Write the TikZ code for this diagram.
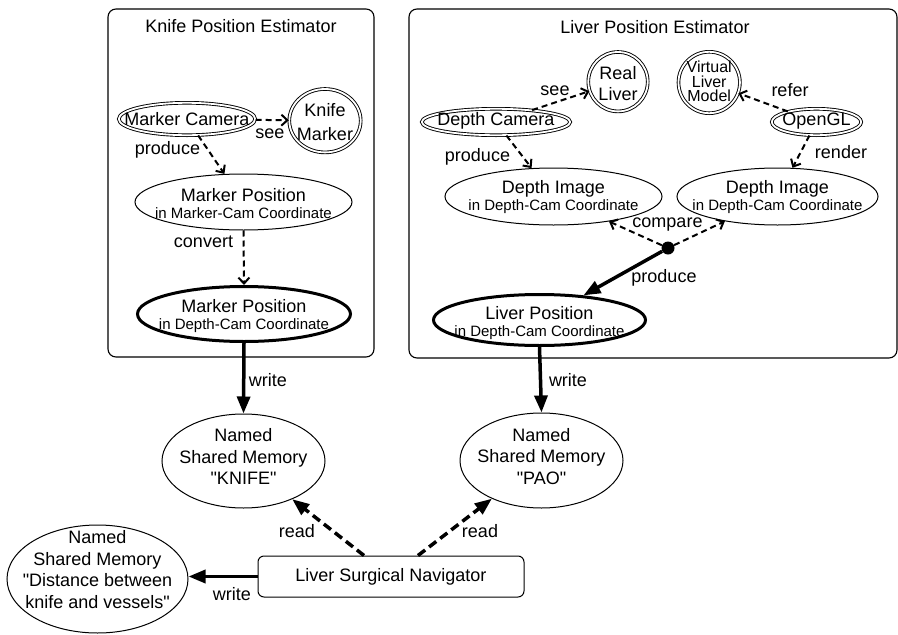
\documentclass[tikz,border=0pt]{standalone}
\usepackage{fontspec}
\setmainfont{Liberation Sans}[Ligatures=TeXOff]
\usetikzlibrary{arrows.meta,shapes.geometric}
\newcommand{\bigf}{\fontsize{18}{21.5}\selectfont}
\newcommand{\smallf}{\fontsize{15}{17}\selectfont}
\begin{document}
\begin{tikzpicture}[x=1pt,y=-1pt,
  frame/.style={draw, rounded corners=8pt, line width=1.1pt, inner sep=0pt, outer sep=0pt},
  ell/.style={ellipse, draw, line width=1pt, inner sep=0pt},
  dbl/.style={ellipse, draw, double, double distance=1.8pt, line width=0.9pt, inner sep=0pt},
  thk/.style={ellipse, draw, line width=3pt, inner sep=0pt},
  txt/.style={align=center, inner sep=0pt, font=\bigf},
  txtd/.style={align=center, inner sep=0pt, font=\fontsize{18}{17}\selectfont},
  lbl/.style={inner sep=0pt, font=\bigf, text height=13pt, text depth=4pt},
  da/.style={line width=2pt, dash pattern=on 6pt off 4pt, -{Straight Barb[length=6pt,width=11pt]}},
  ta/.style={line width=3.5pt, -{Triangle[length=17pt,width=13pt]}},
  tda/.style={line width=3.5pt, dash pattern=on 9pt off 5pt, -{Triangle[length=17pt,width=13pt]}}
]
\useasboundingbox (0,0) rectangle (898,635);

% frames
\node[frame, minimum width=266pt, minimum height=348pt] (kbox) at (241,183) {};
\node[frame, minimum width=488pt, minimum height=349pt] (lbox) at (653,183.5) {};
\node[txt] (ktitle) at (241,26.5) {Knife Position Estimator};
\node[txt] (ltitle) at (655,27) {Liver Position Estimator};

% knife estimator
\node[dbl, minimum width=136.4pt, minimum height=32.4pt] (mcam) at (187,119) {};
\node[txt] (mcamt) at (187,119) {Marker Camera};
\node[dbl, minimum width=71.4pt, minimum height=63.4pt] (kmark) at (325,120.7) {};
\node[txt, font=\fontsize{18}{24}\selectfont] (kmarkt) at (325,122) {Knife\\Marker};
\node[ell, minimum width=217pt, minimum height=56pt] (mpos1) at (243.5,202) {};
\node[txtd] (mpos1t) at (243.5,203.5) {Marker Position\\{\smallf in Marker-Cam Coordinate}};
\node[thk, minimum width=213pt, minimum height=55pt] (mpos2) at (244,314) {};
\node[txtd] (mpos2t) at (244,316) {Marker Position\\{\smallf in Depth-Cam Coordinate}};

% liver estimator
\node[dbl, minimum width=59.4pt, minimum height=59.4pt] (rliver) at (618,81.7) {};
\node[txt, font=\fontsize{18}{21}\selectfont] (rlivert) at (618,83.5) {Real\\Liver};
\node[dbl, minimum width=61.4pt, minimum height=61.4pt] (vliver) at (709.2,82.5) {};
\node[txt, font=\fontsize{16}{14.5}\selectfont] (vlivert) at (709.2,81.7) {Virtual\\Liver\\Model};
\node[dbl, minimum width=148.4pt, minimum height=26.4pt] (dcam) at (496,122) {};
\node[txt] (dcamt) at (496,121) {Depth Camera};
\node[dbl, minimum width=89.4pt, minimum height=26.4pt] (ogl) at (816.5,122) {};
\node[txt] (oglt) at (816.5,121) {OpenGL};
\node[ell, minimum width=217pt, minimum height=57pt] (dimg1) at (553.5,196.5) {};
\node[txtd] (dimg1t) at (553.5,197.2) {Depth Image\\{\smallf in Depth-Cam Coordinate}};
\node[ell, minimum width=201pt, minimum height=57pt] (dimg2) at (777.5,196.5) {};
\node[txtd] (dimg2t) at (777.5,197.2) {Depth Image\\{\smallf in Depth-Cam Coordinate}};
\node[circle, fill, inner sep=0pt, minimum size=13pt] (dot) at (668,248) {};
\node[thk, minimum width=212pt, minimum height=51pt] (lpos) at (539.5,320) {};
\node[txtd] (lpost) at (539.5,322.8) {Liver Position\\{\smallf in Depth-Cam Coordinate}};

% shared memories
\node[ell, minimum width=163pt, minimum height=94pt] (kmem) at (243.5,461) {};
\node[txt] (kmemt) at (243.5,456.5) {Named\\Shared Memory\\"KNIFE"};
\node[ell, minimum width=163pt, minimum height=95pt] (pao) at (541.5,460.5) {};
\node[txt] (paot) at (541.5,456.5) {Named\\Shared Memory\\"PAO"};
\node[ell, minimum width=181pt, minimum height=108pt] (dist) at (97.5,579) {};
\node[txt] (distt) at (97.5,569.5) {Named\\Shared Memory\\"Distance between\\knife and vessels"};
\node[draw, rounded corners=6pt, line width=1pt, minimum width=266pt, minimum height=41pt, font=\bigf] (nav) at (391,576.5) {Liver Surgical Navigator};

% connectors
\draw[da] (mcam) -- (kmark);
\draw[da] (mcam) -- (mpos1);
\draw[da] (mpos1.south) -- (mpos2.north);
\draw[ta] (mpos2.south) -- (kmem.north);
\draw[da] (dcam) -- (rliver);
\draw[da] (ogl) -- (vliver);
\draw[da] (dcam) -- (dimg1);
\draw[da] (ogl) -- (dimg2);
\draw[da] (dot) -- (dimg1);
\draw[da] (dot) -- (dimg2);
\draw[ta] (dot) -- (lpos);
\draw[ta] (lpos.south) -- (pao.north);
\draw[tda] ([xshift=-27pt]nav.north) -- (kmem);
\draw[tda] ([xshift=27pt]nav.north) -- (pao);
\draw[ta] (nav.west) -- (nav.west -| dist.east);

% labels
\node[lbl] (lsee1) at (270,134) {see};
\node[lbl] (lprod1) at (167.5,150) {produce};
\node[lbl] (lconv) at (203.5,242.5) {convert};
\node[lbl] (lwrite1) at (268,382) {write};
\node[lbl] (lsee2) at (555,91) {see};
\node[lbl] (lrefer) at (790,92) {refer};
\node[lbl] (lprod2) at (477.5,157) {produce};
\node[lbl] (lrender) at (841,154) {render};
\node[lbl] (lcomp) at (667.5,222.5) {compare};
\node[lbl] (lprod3) at (664,277.5) {produce};
\node[lbl] (lwrite2) at (568,382) {write};
\node[lbl] (lread1) at (297,533) {read};
\node[lbl] (lread2) at (480,533) {read};
\node[lbl] (lwrite3) at (232,596) {write};
\end{tikzpicture}
\end{document}
